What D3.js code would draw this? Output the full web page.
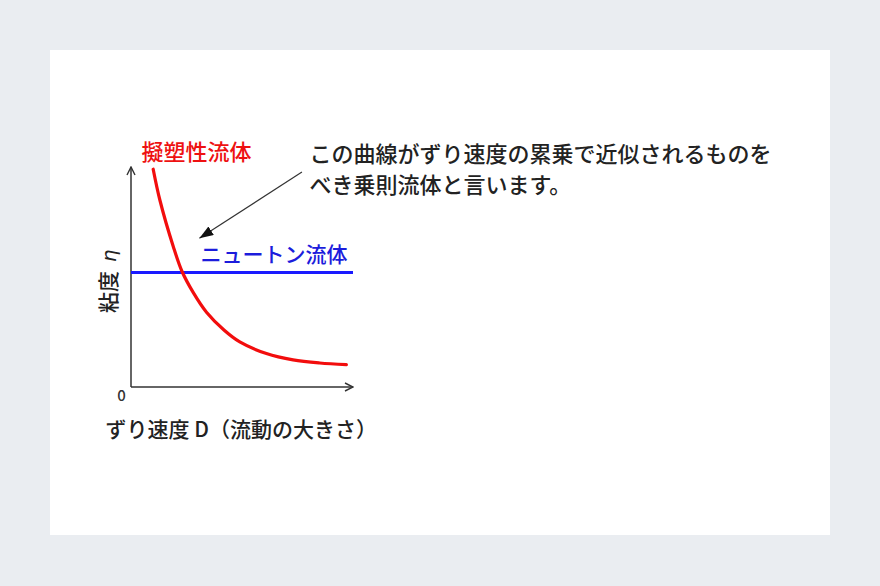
<!DOCTYPE html>
<html><head><meta charset="utf-8">
<script src="https://cdn.jsdelivr.net/npm/d3@7"></script>
<style>
html,body{margin:0;padding:0;background:#eaedf1;}
svg{display:block;}
text{font-family:"Noto Sans CJK JP","Noto Sans",sans-serif;font-weight:500;}
</style></head>
<body>
<svg id="chart" width="880" height="586"></svg>
<script>
// --- data ---
const shearRate = [1.0, 1.3, 1.9, 2.3, 2.8, 3.4, 4.2, 4.9, 6.1, 7.3, 8.5, 9.7];
const pseudoplasticViscosity = [9.9, 8.5, 6.4, 5.25, 4.3, 3.4, 2.58, 2.05, 1.52, 1.23, 1.09, 1.02];
const newtonianRate = [0, 10];
const newtonianViscosity = [5.2, 5.2];
const seriesLabels = ["擬塑性流体", "ニュートン流体"];
const axisLabels = {x: "ずり速度 D（流動の大きさ）", y: "粘度 ", yUnit: "η", origin: "0"};
const noteLines = ["この曲線がずり速度の累乗で近似されるものを", "べき乗則流体と言います。"];
const noteArrow = {from: [7.7, 9.77], to: [3.08, 6.76]};

const svg = d3.select("#chart");
svg.append("rect").attr("x", 50).attr("y", 50).attr("width", 780).attr("height", 485).attr("fill", "#fff");

const x = d3.scaleLinear().domain([0, 10]).range([131, 353]);
const y = d3.scaleLinear().domain([0, 10]).range([387, 167]);

const defs = svg.append("defs");
defs.append("marker").attr("id", "tri").attr("viewBox", "0 0 14 10")
  .attr("refX", 14).attr("refY", 5).attr("markerWidth", 14).attr("markerHeight", 10)
  .attr("markerUnits", "userSpaceOnUse").attr("orient", "auto")
  .append("path").attr("d", "M0,0 L14,5 L0,10 Z").attr("fill", "#111");
defs.append("marker").attr("id", "chev").attr("viewBox", "0 0 10 10")
  .attr("refX", 9).attr("refY", 5).attr("markerWidth", 10).attr("markerHeight", 10)
  .attr("markerUnits", "userSpaceOnUse").attr("orient", "auto")
  .append("path").attr("d", "M1,1 L9,5 L1,9").attr("fill", "none")
  .attr("stroke", "#333").attr("stroke-width", 1.4);

// axes
const axisColor = "#333";
svg.append("line").attr("x1", x(0)).attr("y1", y(0)).attr("x2", x(0)).attr("y2", y(10))
  .attr("stroke", axisColor).attr("stroke-width", 1.5).attr("marker-end", "url(#chev)");
svg.append("line").attr("x1", x(0)).attr("y1", y(0)).attr("x2", x(10)).attr("y2", y(0))
  .attr("stroke", axisColor).attr("stroke-width", 1.5).attr("marker-end", "url(#chev)");

// newtonian line
const line = d3.line().x(d => x(d[0])).y(d => y(d[1]));
svg.append("path").datum(d3.zip(newtonianRate, newtonianViscosity))
  .attr("d", line).attr("fill", "none").attr("stroke", "#1a1aff").attr("stroke-width", 3);

// pseudoplastic curve
svg.append("path").datum(d3.zip(shearRate, pseudoplasticViscosity))
  .attr("d", d3.line().x(d => x(d[0])).y(d => y(d[1])).curve(d3.curveCatmullRom.alpha(0.5)))
  .attr("fill", "none")
  .attr("stroke", "#f20d0d").attr("stroke-width", 3.2).attr("stroke-linecap", "round");

// annotation arrow
svg.append("line")
  .attr("x1", x(noteArrow.from[0])).attr("y1", y(noteArrow.from[1]))
  .attr("x2", x(noteArrow.to[0])).attr("y2", y(noteArrow.to[1]))
  .attr("stroke", "#333").attr("stroke-width", 1.2).attr("marker-end", "url(#tri)");

// labels
svg.append("text").attr("x", 141.5).attr("y", 160).attr("font-size", 22)
  .attr("fill", "#ee1111").text(seriesLabels[0]);
svg.append("text").attr("x", 200.5).attr("y", 262).attr("font-size", 21)
  .attr("fill", "#1c1cdc").text(seriesLabels[1]);

svg.selectAll("text.note").data(noteLines).enter().append("text").attr("class", "note")
  .attr("x", 309.5).attr("y", (d, i) => 162 + i * 31).attr("font-size", 22)
  .attr("fill", "#222").text(d => d);

svg.append("text").attr("x", 105.5).attr("y", 437).attr("font-size", 21)
  .attr("fill", "#222").text(axisLabels.x);

const yl = svg.append("text").attr("transform", "translate(116,313) rotate(-90)")
  .attr("font-size", 21).attr("fill", "#222");
yl.append("tspan").text(axisLabels.y);
yl.append("tspan").attr("dx", 4).attr("font-style", "italic").attr("font-family", "'DejaVu Sans',sans-serif")
  .attr("font-weight", "normal").attr("font-size", 20).text(axisLabels.yUnit);

svg.append("text").attr("x", 121.5).attr("y", 401).attr("font-size", 15)
  .attr("text-anchor", "middle").attr("fill", "#333").attr("font-weight", "normal")
  .attr("font-family", "'Liberation Sans',Arial,sans-serif").text(axisLabels.origin);
</script>
</body></html>
